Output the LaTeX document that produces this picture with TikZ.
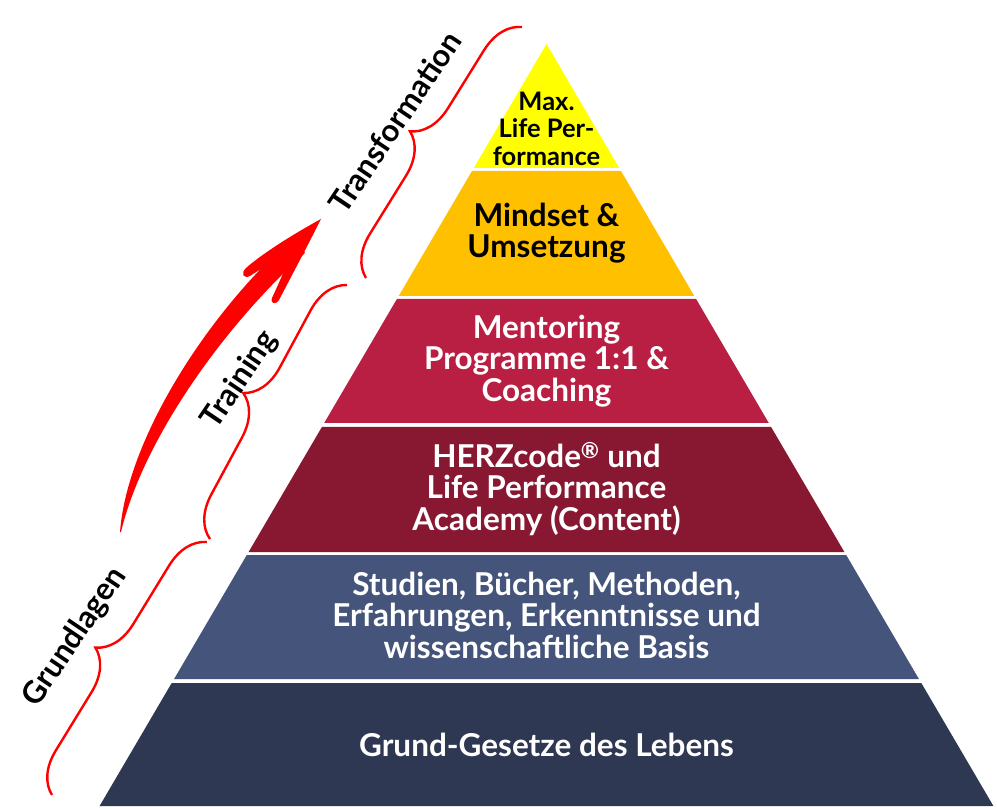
\documentclass[tikz,border=0pt]{standalone}
\usepackage{fontspec}
\setmainfont{Lato}
\usetikzlibrary{decorations.pathreplacing}
\definecolor{cyel}{RGB}{255,255,0}
\definecolor{corange}{RGB}{255,192,0}
\definecolor{ccrimson}{RGB}{184,31,66}
\definecolor{cdarkred}{RGB}{136,23,50}
\definecolor{cslate}{RGB}{68,84,122}
\definecolor{cnavy}{RGB}{46,56,82}
\definecolor{cred}{RGB}{255,0,0}
\begin{document}
\begin{tikzpicture}[x=1pt,y=-1pt,
  layertext/.style={font=\bfseries\fontsize{31.5}{31.5}\selectfont, align=center, text=white, inner sep=0pt},
  sidelabel/.style={font=\bfseries\fontsize{31}{32}\selectfont, rotate=56, inner sep=0pt, text=black},
  bracestyle/.style={draw=cred, line width=2.4pt, decorate, decoration={brace, amplitude=40pt}},
]
\useasboundingbox[fill=white] (0,0) rectangle (997,810);
% pyramid layers
\fill[cyel] (546.5,44) -- (619.2,168) -- (473.8,168) -- cycle;
\fill[corange] (472,171) -- (621,171) -- (694.3,296) -- (398.7,296) -- cycle;
\fill[ccrimson] (396.9,299) -- (696.1,299) -- (768.8,423) -- (324.2,423) -- cycle;
\fill[cdarkred] (321.9,427) -- (771.1,427) -- (844.4,552) -- (248.6,552) -- cycle;
\fill[cslate] (246.8,555) -- (846.2,555) -- (918.9,679) -- (174.1,679) -- cycle;
\fill[cnavy] (171.7,683) -- (921.3,683) -- (993.4,806) -- (99.6,806) -- cycle;
% layer texts
\node[layertext, text=black, font=\bfseries\fontsize{25.5}{27.5}\selectfont] (l1) at (546.5,128.5) {Max.\\Life Per-\\formance};
\node[layertext, text=black] (l2) at (546.5,233) {Mindset \&\\Umsetzung};
\node[layertext] (l3) at (546.5,361) {Mentoring\\Programme 1:1 \&\\Coaching};
\node[layertext] (l4) at (546.5,489) {HERZcode\textsuperscript{®} und\\Life Performance\\Academy (Content)};
\node[layertext] (l5) at (546.5,615) {Studien, Bücher, Methoden,\\Erfahrungen, Erkenntnisse und\\wissenschaftliche Basis};
\node[layertext] (l6) at (546.5,744.5) {Grund-Gesetze des Lebens};
% braces
\coordinate (gb) at (52,795);
\coordinate (gt) at (207,542);
\coordinate (tb) at (210,539);
\coordinate (tt) at (347,285);
\coordinate (rb) at (366,278);
\coordinate (rt) at (522,27);
\draw[bracestyle] (gb) -- (gt);
\draw[bracestyle] (tb) -- (tt);
\draw[bracestyle] (rb) -- (rt);
% side labels
\node[sidelabel] (glab) at (75,637) {Grundlagen};
\node[sidelabel] (tlab) at (240,380) {Training};
\node[sidelabel] (rlab) at (395,122) {Transformation};
% red arrow
\fill[cred] (120,532) .. controls (127,440) and (207,313) .. (295,236)
  -- (305,253) .. controls (223,327) and (143,440) .. (121,532) -- cycle;
\fill[cred] (321,219) .. controls (290,236) and (262,254) .. (246,268)
  .. controls (240,274) and (244,279) .. (250,276)
  .. controls (262,268) and (278,259) .. (290,255)
  .. controls (285,270) and (278,285) .. (272,298)
  .. controls (270,304) and (276,305) .. (279,300)
  .. controls (292,275) and (308,245) .. (321,219) -- cycle;
\end{tikzpicture}
\end{document}
